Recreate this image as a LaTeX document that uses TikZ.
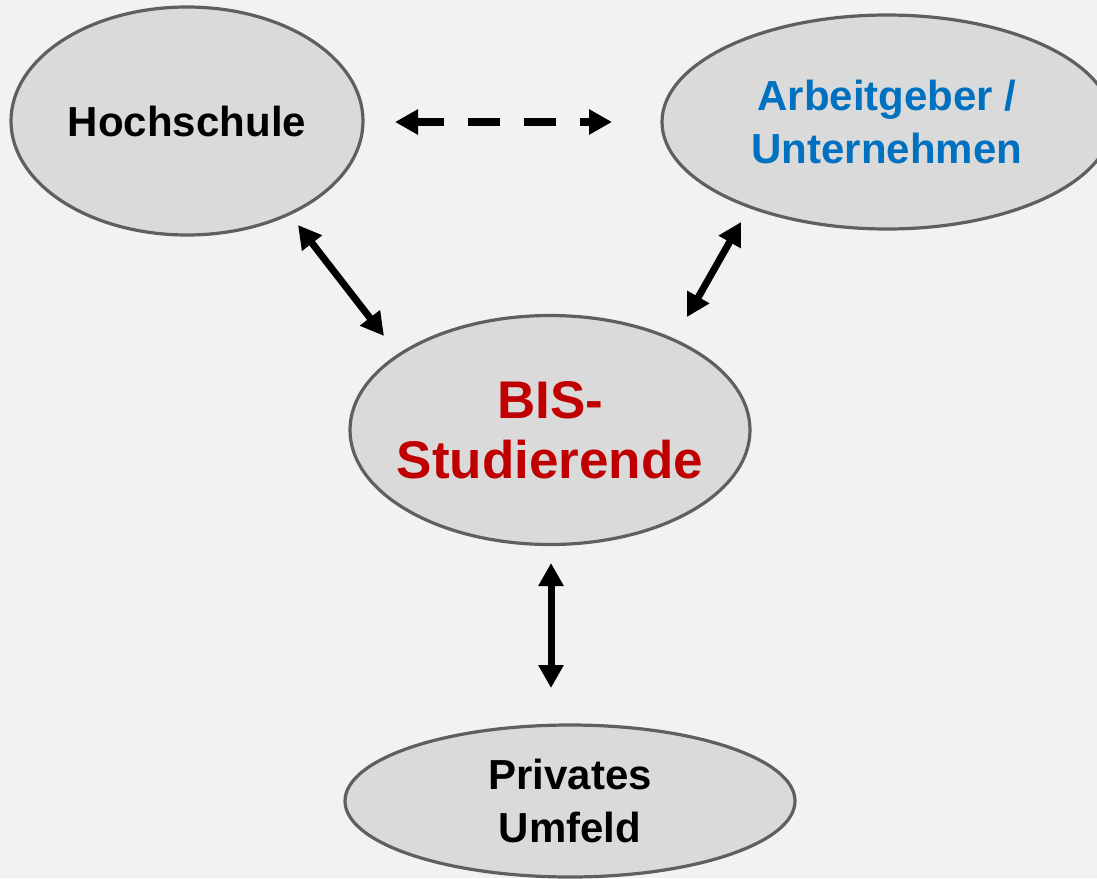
\documentclass[tikz,border=0pt]{standalone}
\usepackage{fontspec}
\setmainfont{Liberation Sans}
\usetikzlibrary{shapes.geometric,arrows.meta}
\definecolor{bgGray}{HTML}{F2F2F2}
\definecolor{blobGray}{HTML}{DADADA}
\definecolor{rimGray}{HTML}{5F5F5F}
\definecolor{bisRed}{HTML}{C00000}
\definecolor{firmBlue}{HTML}{0070C0}
\begin{document}
\begin{tikzpicture}[x=0.5pt, y=-0.5pt,
        blob/.style = {ellipse, draw=rimGray, line width=1.6pt, fill=blobGray,
                       inner sep=0pt, align=center,
                       font=\bfseries\fontsize{21}{26.5}\selectfont},
        link/.style = {line width=3.5pt,
                       {Triangle[length=11.5pt,width=12pt]}-{Triangle[length=11.5pt,width=12pt]}}]
            \clip (0,0) rectangle (1097,878);
            \fill[bgGray] (0,0) rectangle (1097,878);

            \node[blob, minimum width=176pt, minimum height=114pt] (hs) at (187,121) {Hochschule};
            \node[blob, minimum width=225pt, minimum height=107pt, text=firmBlue] (ag) at (887,122) {Arbeitgeber /\\Unternehmen};
            \node[blob, minimum width=200pt, minimum height=114.5pt, inner xsep=-8pt, text=bisRed,
                  font=\bfseries\fontsize{26.5}{30}\selectfont] (bis) at (550,430) {BIS-\\Studierende};
            \node[blob, minimum width=225pt, minimum height=76pt, inner ysep=-6pt] (pu) at (570,801) {Privates\\Umfeld};

            % ends of the connectors
            \coordinate (hsR) at (395,122);
            \coordinate (agL) at (612,122);
            \coordinate (hsB) at (298,225);
            \coordinate (bisL) at (384,336);
            \coordinate (agB) at (741,222);
            \coordinate (bisR) at (687,317);
            \coordinate (bisB) at (551,563);
            \coordinate (puT) at (551,688);

            \draw[link, line width=4pt, dash pattern=on 16pt off 12pt, dash phase=2.5pt] (hsR) -- (agL);
            \draw[link] (hsB) -- (bisL);
            \draw[link] (agB) -- (bisR);
            \draw[link] (bisB) -- (puT);

        \end{tikzpicture}
\end{document}
